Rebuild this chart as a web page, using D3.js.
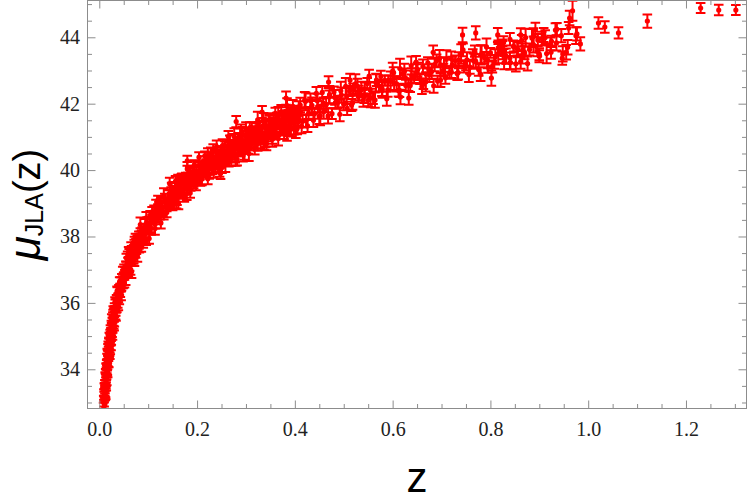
<!DOCTYPE html>
<html><head><meta charset="utf-8">
<script src="https://cdn.jsdelivr.net/npm/d3@7"></script>
<style>body{margin:0;background:#fff}svg{display:block}</style>
</head><body>
<svg id="chart" width="750" height="503"></svg>
<script>
// ---- data: [z, mu, sigma_mu] ----
const lowZ = [
[0.0088,32.78,0.21],[0.0091,33.00,0.20],[0.0094,32.85,0.23],[0.0098,33.20,0.19],[0.0101,32.97,0.21],[0.0104,33.23,0.18],[0.0108,32.96,0.22],[0.0112,33.26,0.17],[0.0116,33.48,0.20],[0.0120,33.26,0.19],[0.0124,33.51,0.16],[0.0128,33.34,0.18],[0.0131,33.80,0.21],[0.0135,33.59,0.17],[0.0139,33.80,0.19],[0.0143,33.52,0.16],[0.0148,33.88,0.18],
[0.0152,34.14,0.15],[0.0156,33.95,0.17],[0.0161,34.12,0.16],[0.0165,34.01,0.18],[0.0170,34.42,0.15],[0.0175,34.24,0.17],[0.0180,34.46,0.14],[0.0185,34.23,0.16],[0.0190,34.54,0.15],[0.0196,34.76,0.17],[0.0201,34.48,0.14],[0.0207,34.66,0.15],[0.0213,34.66,0.16],[0.0219,34.94,0.14],[0.0225,34.60,0.15],[0.0231,34.99,0.13],[0.0238,35.09,0.15],[0.0245,34.88,0.14],
[0.0252,35.24,0.16],[0.0259,35.24,0.13],[0.0266,35.41,0.14],[0.0274,35.25,0.15],[0.0282,35.66,0.13],[0.0290,35.45,0.14],[0.0299,35.72,0.12],[0.0308,35.43,0.14],[0.0317,35.74,0.13],[0.0327,35.95,0.15],[0.0337,35.73,0.12],[0.0348,35.99,0.13],
[0.0359,35.86,0.14],[0.0371,36.35,0.12],[0.0383,36.15,0.13],[0.0396,36.36,0.12],[0.0410,36.10,0.14],[0.0424,36.46,0.12],[0.0439,36.64,0.13],[0.0455,36.48,0.11],[0.0471,36.65,0.12],[0.0488,36.57,0.13],
[0.0506,37.04,0.12],[0.0525,36.89,0.11],[0.0545,37.12,0.13],[0.0566,36.92,0.12],[0.0588,37.25,0.11],[0.0611,37.50,0.12],[0.0635,37.25,0.13],[0.0660,37.46,0.11],[0.0687,37.48,0.12],[0.0715,37.79,0.11],[0.0745,37.48,0.12],[0.0776,37.91,0.13],[0.0809,38.04,0.11],[0.0843,37.86,0.12],[0.0880,38.16,0.11],[0.0918,38.19,0.12],
[0.0099,33.10,0.22],[0.0109,33.40,0.19],[0.0118,33.30,0.20],[0.0126,33.70,0.17],[0.0137,33.66,0.18],[0.0146,34.00,0.16],[0.0158,34.30,0.17],[0.0168,34.15,0.15],[0.0178,34.60,0.16],[0.0188,34.40,0.15],[0.0199,34.82,0.14],[0.0210,34.55,0.15],[0.0222,35.05,0.14],[0.0235,34.85,0.13],[0.0248,35.32,0.14],[0.0262,35.10,0.13],[0.0278,35.58,0.14],[0.0295,35.35,0.13],[0.0313,35.86,0.13],[0.0332,35.62,0.12],[0.0354,36.12,0.12],[0.0378,35.98,0.13],[0.0402,36.42,0.12],[0.0430,36.30,0.12],[0.0462,36.75,0.12],[0.0497,36.80,0.11],
[0.0105,33.38,0.19],[0.0114,32.94,0.21],[0.0122,33.73,0.18],[0.0133,33.30,0.20],[0.0141,34.01,0.17],[0.0154,33.70,0.18],[0.0163,34.46,0.16],[0.0172,33.93,0.17],[0.0183,34.69,0.15],[0.0194,34.22,0.16],[0.0205,34.95,0.15],[0.0216,34.45,0.14],[0.0228,35.18,0.15],[0.0241,34.71,0.14],[0.0255,35.52,0.14],[0.0270,35.02,0.13],[0.0286,35.76,0.14],[0.0304,35.30,0.13],[0.0322,36.04,0.13],[0.0342,35.58,0.12],[0.0365,36.36,0.13],[0.0390,35.90,0.12],[0.0417,36.65,0.12],[0.0447,36.21,0.13],[0.0480,36.97,0.12],[0.0515,36.58,0.12],[0.0553,37.36,0.12],[0.0595,36.91,0.11],[0.0650,37.71,0.12],[0.0705,37.30,0.11]
];
const midZ = [
[.052,36.94,.14],[.054,36.72,.18],[.056,37.04,.12],[.058,37.34,.21],
[.062,37.13,.16],[.064,36.98,.13],[.066,37.52,.19],[.068,37.45,.15],
[.072,37.34,.23],[.074,37.96,.12],[.076,37.64,.17],[.078,37.83,.14],
[.082,37.72,.20],[.084,38.12,.13],[.086,37.70,.16],[.088,38.09,.18],
[.092,38.11,.14],[.094,38.35,.18],[.096,37.86,.12],[.098,38.37,.21],
[.102,38.28,.16],[.104,38.64,.13],[.106,38.24,.19],[.108,38.51,.15],
[.112,38.70,.23],[.114,38.36,.12],[.116,38.94,.17],[.118,38.57,.14],
[.122,38.84,.20],[.124,38.64,.13],[.126,39.03,.16],[.128,38.84,.18],
[.132,38.65,.14],[.134,39.11,.18],[.136,39.02,.12],[.138,38.97,.21],
[.142,39.23,.16],[.144,38.96,.13],[.146,39.22,.19],[.148,39.47,.15],
[.151,39.16,.23],[.153,38.97,.12],[.155,39.47,.17],[.157,39.36,.14],[.159,39.15,.20],
[.161,39.73,.13],[.163,39.38,.16],[.165,39.54,.18],[.167,39.34,.14],[.169,39.72,.18],
[.171,39.26,.12],[.173,39.63,.21],[.175,39.58,.16],[.177,39.79,.13],[.179,39.29,.19],
[.181,39.77,.15],[.183,39.63,.23],[.185,39.97,.12],[.187,39.55,.17],[.189,39.80,.14],
[.191,39.93,.20],[.193,39.58,.13],[.195,40.14,.16],[.197,39.75,.18],[.199,39.97,.14],
[.201,39.75,.18],[.203,40.13,.12],[.205,39.93,.21],[.207,39.69,.16],[.209,40.13,.13],
[.211,40.03,.19],[.213,39.96,.15],[.215,40.19,.23],[.217,39.91,.12],[.219,40.16,.17],
[.221,40.40,.14],[.223,40.06,.20],[.225,39.87,.13],[.227,40.36,.16],[.229,40.24,.18],
[.231,40.02,.14],[.233,40.60,.18],[.235,40.24,.12],[.237,40.39,.21],[.239,40.18,.16],
[.241,40.55,.13],[.243,40.09,.19],[.245,40.45,.15],[.247,40.38,.23],[.249,40.59,.12],
[.251,40.08,.17],[.253,40.56,.14],[.255,40.41,.20],[.257,40.74,.13],[.259,40.32,.16],
[.261,40.56,.22],[.263,40.69,.18],[.265,40.33,.22],[.267,40.88,.16],[.269,40.49,.25],
[.271,40.70,.20],[.273,40.48,.17],[.275,40.86,.23],[.277,40.64,.19],[.279,40.40,.27],
[.281,40.84,.16],[.283,40.73,.21],[.285,40.66,.18],[.287,40.88,.24],[.289,40.59,.17],
[.291,40.84,.20],[.293,41.08,.22],[.295,40.74,.18],[.297,40.53,.22],[.299,41.02,.16],
[.302,40.91,.25],[.305,40.69,.20],[.308,41.27,.17],
[.311,40.92,.23],[.314,41.07,.19],[.317,40.87,.27],
[.321,41.25,.16],[.324,40.79,.21],[.327,41.16,.18],
[.331,41.11,.24],[.334,41.32,.17],[.337,40.81,.20],
[.341,41.30,.22],[.344,41.15,.18],[.347,41.49,.22],
[.351,41.08,.16],[.354,41.32,.25],[.357,41.45,.20],
[.362,41.10,.17],[.366,41.67,.23],
[.371,41.30,.19],[.375,41.51,.27],[.379,41.29,.16],
[.383,41.68,.21],[.387,41.48,.18],
[.392,41.25,.24],[.396,41.70,.17],
[.402,41.61,.20],[.407,41.56,.22]
];
const midWide = [
[.060,37.53,.15],[.066,36.94,.19],[.072,37.86,.13],[.078,37.41,.17],[.084,38.36,.21],[.090,37.80,.14],[.096,38.56,.18],[.102,37.94,.16],
[.108,38.74,.15],[.114,38.24,.19],[.120,39.10,.13],[.126,38.41,.17],[.132,39.24,.21],[.138,38.72,.14],[.144,39.59,.18],[.150,38.95,.16],
[.156,39.67,.15],[.162,39.01,.19],[.168,39.75,.13],[.174,39.22,.17],[.180,40.03,.21],[.186,39.31,.14],[.192,40.10,.18],[.198,39.55,.16],
[.204,40.39,.15],[.210,39.73,.19],[.216,40.43,.13],[.222,39.74,.17],[.228,40.47,.21],[.234,39.91,.14],[.240,40.71,.18],[.246,39.96,.16],
[.252,40.74,.19],[.258,40.17,.23],[.264,41.01,.17],[.270,40.33,.21],[.276,41.01,.25],[.282,40.32,.18],[.288,41.03,.22],[.294,40.46,.20],
[.300,41.25,.19],[.306,40.50,.23],[.312,41.27,.17],[.318,40.68,.21],[.324,41.51,.25],[.330,40.83,.18],[.336,41.50,.22],[.342,40.80,.20],
[.348,41.50,.19],[.354,40.93,.23],[.360,41.71,.17],[.366,40.95,.21],[.372,41.71,.25],[.378,41.12,.18],[.384,41.94,.22],[.390,41.25,.20],
[.396,41.92,.19],[.402,41.20,.23],[.408,41.90,.17],[.414,41.32,.21],[.420,42.10,.25],[.426,41.33,.18],[.432,42.09,.22],[.438,41.50,.20],
[.444,42.31,.19],[.450,41.62,.23]
];
const midCore = [
[.063,37.34,.14],[.069,37.35,.16],[.075,37.80,.13],[.081,37.78,.15],[.087,38.02,.17],[.093,38.05,.14],[.099,38.40,.16],[.105,38.26,.13],
[.111,38.62,.15],[.117,38.54,.17],[.123,38.93,.14],[.129,38.84,.16],[.135,39.02,.13],[.141,39.01,.15],[.147,39.31,.17],[.153,39.13,.14],
[.159,39.45,.16],[.165,39.33,.13],[.171,39.68,.15],[.177,39.56,.17],[.183,39.71,.14],[.189,39.67,.16],[.195,39.96,.13],[.201,39.76,.15],
[.207,40.06,.17],[.213,39.92,.14],[.219,40.26,.16],[.225,40.13,.13],[.231,40.26,.15],[.237,40.20,.17],[.243,40.48,.14],[.249,40.26,.16],
[.255,40.55,.17],[.261,40.41,.20],[.267,40.73,.18],[.273,40.59,.21],[.279,40.71,.19],[.285,40.64,.22],[.291,40.91,.18],[.297,40.69,.20],
[.303,40.97,.19],[.309,40.82,.22],[.315,41.14,.18],[.321,40.99,.21],[.327,41.11,.19],[.333,41.03,.22],[.339,41.29,.18],[.345,41.07,.20],
[.351,41.35,.19],[.357,41.19,.22],[.363,41.50,.18],[.369,41.34,.21],[.375,41.45,.19],[.381,41.37,.22],[.387,41.63,.18],[.393,41.40,.20]
];
const highZ = [
[.158,39.00,.16],[.185,39.83,.22],[.205,39.90,.19],[.222,40.39,.27],[.238,40.12,.18],[.252,40.47,.24],[.265,40.71,.15],[.278,40.44,.21],[.290,41.08,.29],[.300,40.76,.17],[.310,41.03,.23],[.318,40.85,.20],
[.326,41.28,.16],[.334,41.11,.22],[.341,40.90,.19],[.348,41.37,.27],[.355,41.31,.18],[.362,41.27,.24],[.368,41.51,.15],[.374,41.25,.21],[.380,41.51,.29],[.386,41.77,.17],[.392,41.45,.23],[.398,41.27,.20],
[.404,41.78,.16],[.410,41.67,.22],[.416,41.47,.19],[.422,42.07,.27],[.428,41.72,.18],[.434,41.89,.24],[.440,41.70,.15],[.446,42.09,.21],[.452,41.64,.29],[.458,42.02,.17],[.464,41.97,.23],[.470,42.20,.20],
[.476,41.70,.16],[.482,42.19,.22],[.488,42.05,.19],[.494,42.39,.27],[.500,41.98,.18],[.506,42.23,.24],[.512,42.38,.15],[.518,42.03,.21],[.524,42.60,.29],[.530,42.21,.17],[.536,42.43,.23],[.542,42.22,.20],
[.548,42.61,.16],[.554,42.43,.22],[.560,42.18,.19],[.566,42.63,.27],[.572,42.54,.18],[.578,42.47,.24],[.584,42.70,.15],[.590,42.42,.21],[.596,42.68,.29],[.602,42.93,.17],[.608,42.60,.23],[.614,42.40,.20],
[.620,42.90,.16],[.626,42.78,.22],[.632,42.57,.19],[.638,43.15,.27],[.644,42.80,.18],[.650,42.95,.24],[.656,42.74,.15],[.662,43.12,.21],[.668,42.66,.29],[.674,43.02,.17],[.680,42.97,.23],[.686,43.18,.20],
[.692,42.68,.16],[.698,43.16,.22],[.704,43.01,.19],[.710,43.34,.27],[.716,42.93,.18],[.722,43.17,.24],[.728,43.30,.15],[.734,42.94,.21],[.740,43.50,.29],[.746,43.11,.17],[.752,43.32,.23],[.758,43.10,.20],
[.764,43.48,.16],[.770,43.27,.22],[.776,43.03,.19],[.782,43.48,.27],[.788,43.38,.18],[.794,43.31,.24],[.800,43.53,.15],[.808,43.26,.21],[.816,43.51,.29],[.824,43.76,.17],[.832,43.43,.23],[.840,43.23,.20],
[.848,43.73,.16],[.856,43.62,.22],[.864,43.40,.19],[.872,43.99,.27],[.880,43.63,.18],[.888,43.78,.24],[.896,43.58,.15],[.905,43.96,.21],[.915,43.51,.29],[.925,43.88,.17],[.935,43.83,.23],[.945,44.05,.20],
[.958,43.70,.22],[.975,44.05,.25],
[.303,40.81,.20],[.315,41.00,.17],[.327,41.22,.23],[.339,40.88,.19],[.351,41.24,.25],[.363,41.55,.18],[.375,41.27,.21],[.387,41.59,.16],[.399,41.47,.27],[.411,41.96,.22],[.423,41.49,.19],[.435,41.95,.24],
[.447,41.91,.17],[.459,41.76,.21],[.471,42.27,.26],[.483,42.03,.18],[.495,42.26,.23],[.507,41.86,.20],[.519,42.45,.16],[.531,42.32,.22],[.543,42.45,.19],[.555,42.17,.28],[.567,42.71,.18],[.579,42.42,.24],
[.591,42.70,.15],[.603,42.62,.21],[.615,43.06,.29],[.627,42.55,.17],[.639,42.84,.23],[.651,43.03,.20],[.663,42.60,.16],[.675,42.87,.22],[.690,43.29,.19],[.705,43.13,.27],[.720,42.95,.18],[.735,43.31,.24],
[.750,43.16,.15],[.765,43.30,.21],[.780,43.47,.29],[.795,43.10,.17],[.810,43.41,.23],[.825,43.69,.20],[.840,43.38,.16],[.855,43.67,.22],[.870,43.53,.19],[.885,43.98,.27],[.900,43.49,.18]
];
const highWide = [
[.456,42.34,.19],[.468,41.63,.23],[.480,42.35,.17],[.492,41.68,.21],[.504,42.52,.25],[.516,41.96,.18],[.528,42.53,.22],[.540,42.11,.20],
[.552,42.83,.19],[.564,42.11,.23],[.576,42.82,.17],[.588,42.15,.21],[.600,42.98,.25],[.612,42.40,.18],[.624,42.98,.22],[.636,42.55,.20],
[.648,43.25,.19],[.660,42.52,.23],[.672,43.23,.17],[.684,42.54,.21],[.696,43.37,.25],[.708,42.78,.18],[.720,43.35,.22],[.732,42.91,.20],
[.744,43.62,.19],[.756,42.88,.23],[.768,43.58,.17],[.780,42.89,.21],[.792,43.71,.25],[.804,43.12,.18],[.816,43.68,.22],[.828,43.24,.20],
[.840,43.94,.19],[.852,43.20,.23],[.864,43.90,.17],[.876,43.21,.21],[.888,44.02,.25],[.900,43.43,.18],[.912,43.99,.22],[.924,43.55,.20],
[.936,44.24,.19],[.948,43.50,.23]
];
const sparseZ = [
[0.968,44.80,0.30],[1.021,44.43,0.17],[1.034,44.31,0.17],[1.062,44.13,0.17],[1.121,44.49,0.20],[1.230,44.88,0.15],[1.267,44.82,0.16],[1.302,44.82,0.15],
[0.984,43.80,0.20],[0.977,44.10,0.20],[0.960,44.28,0.18],[0.962,44.58,0.22],[0.955,43.55,0.22],[0.947,43.37,0.20],[0.933,44.22,0.20],[0.923,43.80,0.19],[0.909,44.07,0.21],[0.897,43.92,0.18],[0.892,44.22,0.22],[0.862,44.07,0.20],[0.866,43.62,0.19],[0.862,43.27,0.22],[0.841,43.24,0.20],[0.847,43.72,0.18],[0.827,43.84,0.19],[0.825,43.54,0.20],
[0.616,42.20,0.22],[0.633,42.17,0.20],[0.550,42.11,0.19],[0.698,42.71,0.21],[0.802,42.77,0.23],[0.743,44.07,0.22],[0.770,44.13,0.20],[0.815,44.07,0.21],[0.683,43.55,0.20],[0.469,42.65,0.18],[0.513,42.71,0.19],
[0.280,41.46,0.17],[0.382,42.17,0.20],[0.333,41.75,0.18],[0.180,40.28,0.15],[0.384,41.06,0.18],[0.405,41.27,0.19],[0.248,39.90,0.17],[0.354,40.97,0.18]
];
const xTickValues = [0.0, 0.2, 0.4, 0.6, 0.8, 1.0, 1.2];
const yTickValues = [34, 36, 38, 40, 42, 44];
const xDomain = [-0.0241, 1.3238];
const yDomain = [32.819, 45.108];

// ---- drawing ----
const svg = d3.select('#chart');
const L = 87.5, R = 746.5, T = 0.5, B = 408.5;
const x = d3.scaleLinear().domain(xDomain).range([L, R]);
const y = d3.scaleLinear().domain(yDomain).range([B, T]);
const red = '#ff0000';
const gray = '#8c8c8c';

svg.append('defs').append('clipPath').attr('id', 'clip')
  .append('rect').attr('x', L).attr('y', T).attr('width', R - L).attr('height', B - T);

const data = [].concat(lowZ, midZ, midWide, midCore, highZ, highWide, sparseZ)
  .map(d => ({z: d[0], mu: d[1], e: d[2]}));
const plot = svg.append('g').attr('clip-path', 'url(#clip)');
const cap = 4.8;
const pts = plot.selectAll('g.pt').data(data).join('g').attr('class', 'pt')
  .attr('stroke', red).attr('stroke-width', 2).attr('fill', red);
pts.append('line').attr('x1', d => x(d.z)).attr('x2', d => x(d.z))
  .attr('y1', d => y(d.mu - d.e)).attr('y2', d => y(d.mu + d.e));
pts.append('line').attr('x1', d => x(d.z) - cap).attr('x2', d => x(d.z) + cap)
  .attr('y1', d => y(d.mu - d.e)).attr('y2', d => y(d.mu - d.e));
pts.append('line').attr('x1', d => x(d.z) - cap).attr('x2', d => x(d.z) + cap)
  .attr('y1', d => y(d.mu + d.e)).attr('y2', d => y(d.mu + d.e));
pts.append('circle').attr('cx', d => x(d.z)).attr('cy', d => y(d.mu)).attr('r', 2.6).attr('stroke', 'none');

// minor tick values
const isMult = (v, s) => Math.abs(v / s - Math.round(v / s)) < 1e-6;
const xMinor = d3.range(0.05, 1.33, 0.05).filter(v => !isMult(v, 0.2));
const yMinor = d3.range(33, 45.01, 0.5).filter(v => !isMult(v, 2));

function styleAxis(g) {
  g.select('.domain').remove();
  g.selectAll('.tick line').attr('stroke', gray).attr('stroke-width', 1);
  g.selectAll('.tick text').attr('font-family', '"Liberation Serif", "Times New Roman", serif')
    .attr('font-size', 20).attr('fill', '#222');
}
const none = () => '';
svg.append('g').attr('transform', `translate(0,${B})`)
  .call(d3.axisBottom(x).tickValues(xTickValues).tickSize(-8).tickPadding(13).tickFormat(d3.format('.1f'))).call(styleAxis);
svg.append('g').attr('transform', `translate(0,${B})`)
  .call(d3.axisBottom(x).tickValues(xMinor).tickSize(-4.5).tickFormat(none)).call(styleAxis);
svg.append('g').attr('transform', `translate(0,${T})`)
  .call(d3.axisTop(x).tickValues(xTickValues).tickSize(-8).tickFormat(none)).call(styleAxis);
svg.append('g').attr('transform', `translate(0,${T})`)
  .call(d3.axisTop(x).tickValues(xMinor).tickSize(-4.5).tickFormat(none)).call(styleAxis);
svg.append('g').attr('transform', `translate(${L},0)`)
  .call(d3.axisLeft(y).tickValues(yTickValues).tickSize(-8).tickPadding(7.5).tickFormat(d3.format('d'))).call(styleAxis);
svg.append('g').attr('transform', `translate(${L},0)`)
  .call(d3.axisLeft(y).tickValues(yMinor).tickSize(-4.5).tickFormat(none)).call(styleAxis);
svg.append('g').attr('transform', `translate(${R},0)`)
  .call(d3.axisRight(y).tickValues(yTickValues).tickSize(-8).tickFormat(none)).call(styleAxis);
svg.append('g').attr('transform', `translate(${R},0)`)
  .call(d3.axisRight(y).tickValues(yMinor).tickSize(-4.5).tickFormat(none)).call(styleAxis);

svg.append('rect').attr('x', L).attr('y', T).attr('width', R - L).attr('height', B - T)
  .attr('fill', 'none').attr('stroke', gray).attr('stroke-width', 1);

svg.append('text').attr('x', (L + R) / 2).attr('y', 492).attr('text-anchor', 'middle')
  .attr('font-family', '"Liberation Sans", Arial, sans-serif').attr('font-size', 42).attr('fill', '#000').text('z');
const yl = svg.append('text').attr('transform', `translate(40,${(T + B) / 2}) rotate(-90)`)
  .attr('text-anchor', 'middle').attr('font-family', '"Liberation Sans", Arial, sans-serif').attr('fill', '#000');
yl.append('tspan').attr('font-style', 'italic').attr('font-size', 44).text('μ');
yl.append('tspan').attr('font-size', 25).attr('dy', 3).text('JLA');
yl.append('tspan').attr('font-size', 38).attr('dy', -3).text('(z)');
</script>
</body></html>
